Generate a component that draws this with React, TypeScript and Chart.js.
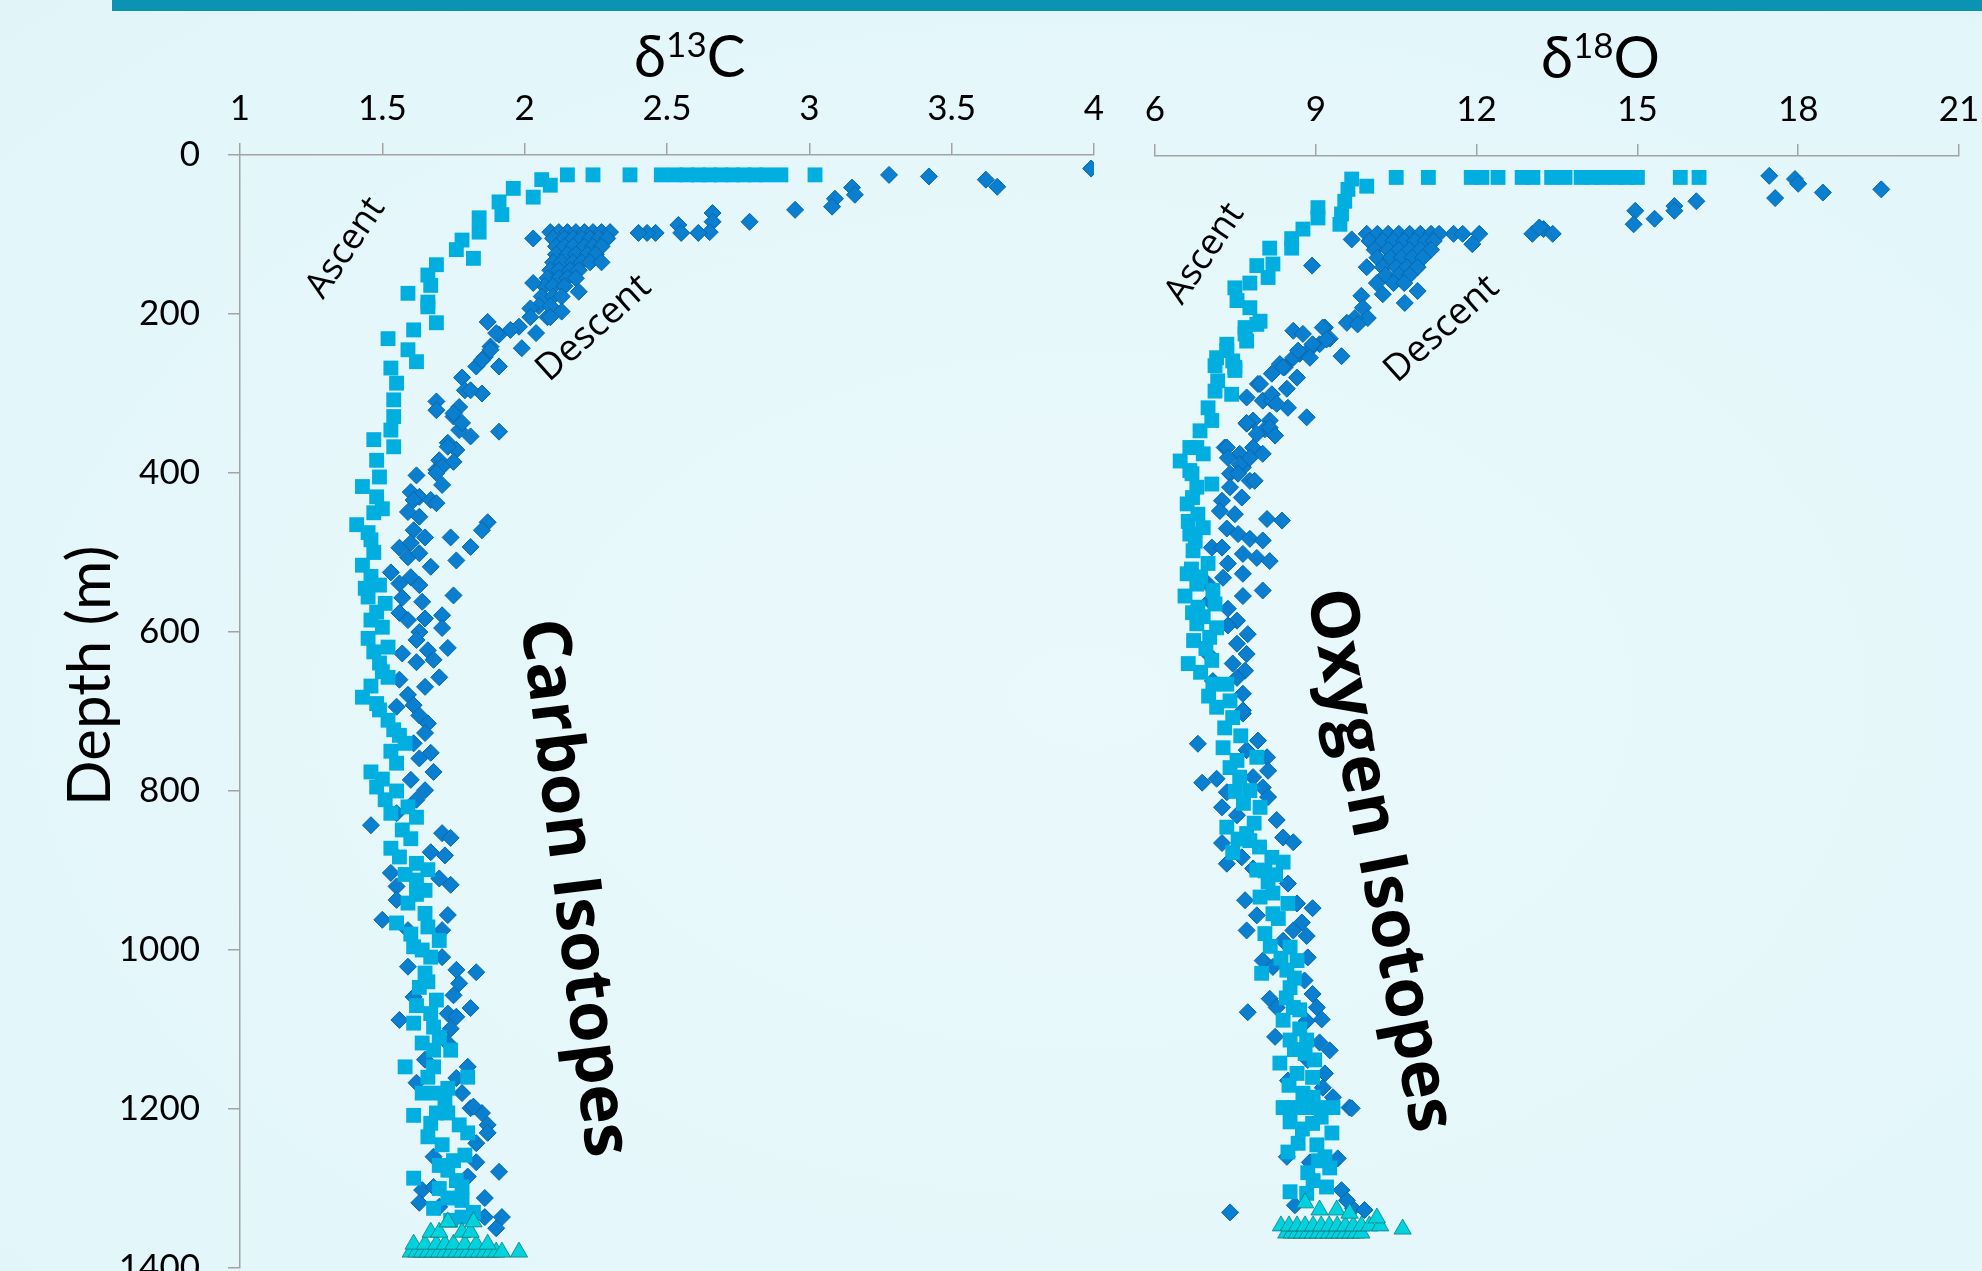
import { useEffect, useRef } from "react";
import { Chart, registerables } from "chart.js";

Chart.register(...registerables);

// ---------- axis tick values ----------
const depthTicks = [0, 200, 400, 600, 800, 1000, 1200, 1400];
const carbonTicks = [1, 1.5, 2, 2.5, 3, 3.5, 4];
const oxygenTicks = [6, 9, 12, 15, 18, 21];

// ---------- δ13C data: [delta, depth m] ----------
const carbonAscent: [number, number][] = [
  [2.15, 25], [2.24, 25], [2.37, 25], [2.48, 25], [2.53, 25], [2.57, 25], [2.61, 25], [2.65, 25], [2.69, 25],
  [2.73, 25], [2.77, 25], [2.81, 25], [2.85, 25], [2.9, 25], [3.02, 25],
  [2.06, 31], [2.09, 38], [1.96, 42], [2.03, 53], [1.91, 59], [1.92, 75], [1.84, 79], [1.84, 97], [1.78, 107],
  [1.76, 119], [1.82, 130], [1.69, 138], [1.66, 151], [1.67, 164], [1.59, 174], [1.66, 185], [1.66, 191],
  [1.69, 211], [1.61, 220], [1.52, 231], [1.59, 245], [1.62, 260], [1.53, 268], [1.55, 287], [1.54, 308],
  [1.54, 329], [1.53, 346], [1.47, 358], [1.54, 367], [1.48, 384], [1.49, 405], [1.43, 417], [1.48, 430],
  [1.47, 450], [1.41, 465], [1.46, 484], [1.43, 516], [1.46, 530], [1.49, 541], [1.45, 556], [1.51, 564],
  [1.46, 585], [1.5, 594], [1.45, 608], [1.52, 619], [1.49, 639], [1.52, 657], [1.43, 682], [1.49, 698],
  [1.52, 711], [1.54, 723], [1.58, 740], [1.55, 765], [1.46, 776], [1.48, 795], [1.51, 811], [1.59, 820],
  [1.53, 828], [1.62, 833], [1.57, 849], [1.53, 872], [1.56, 883], [1.62, 891], [1.66, 899], [1.62, 912],
  [1.65, 925], [1.59, 941], [1.65, 954], [1.55, 966], [1.66, 971], [1.7, 988], [1.61, 996], [1.67, 1009],
  [1.65, 1029], [1.63, 1047], [1.69, 1063], [1.67, 1080], [1.61, 1092], [1.68, 1097], [1.64, 1117],
  [1.68, 1126], [1.74, 1126], [1.58, 1147], [1.68, 1147], [1.8, 1160], [1.64, 1180], [1.69, 1180],
  [1.73, 1174], [1.61, 1208], [1.69, 1205], [1.73, 1205], [1.67, 1218], [1.77, 1220], [1.8, 1230],
  [1.71, 1245], [1.79, 1258], [1.7, 1271], [1.73, 1277], [1.61, 1287], [1.78, 1298], [1.73, 1312],
  [1.78, 1315], [1.82, 1330], [1.78, 1336], [1.74, 1340],
  [1.5, 445], [1.45, 475], [1.47, 500], [1.44, 545], [1.48, 575], [1.47, 625], [1.5, 650], [1.46, 668],
  [1.48, 690], [1.56, 730], [1.53, 750], [1.5, 785], [1.55, 800], [1.6, 860], [1.58, 905], [1.62, 930],
  [1.6, 980], [1.64, 1000], [1.66, 1040], [1.62, 1070], [1.7, 1110], [1.66, 1160], [1.72, 1190],
  [1.66, 1235], [1.75, 1265], [1.76, 1290], [1.7, 1300], [1.68, 1325],
];

const carbonDescent: [number, number][] = [
  [3.99, 17], [3.28, 25], [3.42, 27], [3.62, 31], [3.66, 40], [3.15, 41], [3.16, 50], [3.09, 55], [3.08, 65],
  [2.95, 69], [2.79, 84], [2.66, 73], [2.66, 84], [2.65, 97], [2.61, 98], [2.54, 88], [2.55, 98], [2.46, 98],
  [2.43, 98], [2.4, 98], [2.03, 105],
  [2.09, 97], [2.12, 97], [2.15, 97], [2.18, 97], [2.21, 97], [2.24, 97], [2.27, 97], [2.3, 97],
  [2.1, 105], [2.14, 105], [2.17, 105], [2.2, 105], [2.23, 105], [2.26, 105], [2.29, 105],
  [2.11, 115], [2.14, 115], [2.17, 115], [2.21, 115], [2.24, 115], [2.27, 115],
  [2.11, 125], [2.15, 125], [2.18, 125], [2.22, 125], [2.25, 125],
  [2.1, 135], [2.13, 135], [2.17, 135], [2.2, 135], [2.23, 135], [2.27, 135],
  [2.09, 145], [2.12, 145], [2.16, 145], [2.19, 145],
  [2.08, 155], [2.12, 155], [2.15, 155], [2.18, 155],
  [2.07, 165], [2.1, 165], [2.14, 165], [2.03, 161], [2.19, 172],
  [2.06, 178], [2.1, 178], [2.13, 178], [2.13, 197], [2.08, 204], [2.05, 190], [2.09, 190], [2.02, 193],
  [2.04, 224], [1.98, 216], [1.95, 220], [1.99, 243], [1.91, 226], [1.87, 210], [1.88, 241], [1.86, 254],
  [1.91, 266], [1.83, 266], [1.85, 300], [1.78, 280], [1.79, 296], [1.69, 310], [1.69, 321], [1.77, 317],
  [1.75, 329], [1.77, 346], [1.81, 354], [1.91, 348], [1.73, 362], [1.76, 371], [1.7, 384], [1.69, 396],
  [1.71, 415], [1.62, 403], [1.6, 424], [1.63, 430], [1.9, 224], [2.02, 204], [2.09, 204], [1.88, 245],
  [1.85, 258], [1.81, 296], [1.75, 325], [1.78, 337], [1.73, 367], [1.75, 386], [1.71, 392], [1.69, 400],
  [1.61, 434], [1.67, 434], [1.69, 438], [1.59, 449], [1.63, 455], [1.87, 462], [1.85, 472], [1.61, 472],
  [1.65, 481], [1.74, 481], [1.56, 494], [1.6, 488], [1.81, 493], [1.59, 506], [1.63, 501], [1.76, 510],
  [1.67, 518], [1.53, 525], [1.56, 539], [1.6, 531], [1.63, 541], [1.64, 562], [1.75, 554], [1.57, 557],
  [1.56, 576], [1.59, 585], [1.65, 583], [1.71, 579], [1.71, 595], [1.63, 600], [1.62, 610], [1.73, 620],
  [1.66, 623], [1.68, 635], [1.62, 638], [1.57, 627], [1.7, 657], [1.65, 669], [1.56, 660], [1.59, 679],
  [1.61, 692], [1.55, 694], [1.63, 705], [1.66, 715], [1.61, 740],
  [1.65, 727], [1.67, 752], [1.68, 776], [1.63, 759], [1.6, 786], [1.65, 799], [1.62, 811], [1.46, 843],
  [1.55, 828], [1.71, 853], [1.74, 859], [1.67, 877], [1.72, 881], [1.7, 910], [1.74, 918], [1.53, 903],
  [1.55, 920], [1.55, 937], [1.73, 956], [1.5, 962], [1.71, 975], [1.59, 975], [1.71, 1009], [1.59, 1021],
  [1.76, 1025], [1.83, 1028], [1.77, 1042], [1.61, 1059], [1.75, 1057], [1.73, 1080], [1.81, 1073],
  [1.56, 1088], [1.76, 1084], [1.74, 1099], [1.73, 1117], [1.8, 1147], [1.76, 1161], [1.78, 1180],
  [1.65, 1138], [1.62, 1167], [1.81, 1199], [1.85, 1205], [1.82, 1197], [1.87, 1220], [1.87, 1230],
  [1.83, 1243], [1.83, 1267], [1.91, 1279], [1.68, 1260], [1.64, 1302], [1.63, 1318], [1.68, 1298],
  [1.7, 1323], [1.86, 1312], [1.8, 1285], [1.92, 1336], [1.86, 1336], [1.9, 1350],
];

const carbonBottom: [number, number][] = [
  [1.6, 1380], [1.62, 1380], [1.64, 1380], [1.66, 1380], [1.68, 1380], [1.7, 1380], [1.72, 1380],
  [1.74, 1380], [1.76, 1380], [1.78, 1380], [1.8, 1380], [1.82, 1380], [1.84, 1380], [1.86, 1380],
  [1.88, 1380], [1.9, 1380], [1.92, 1380], [1.98, 1380],
  [1.61, 1370], [1.65, 1370], [1.69, 1370], [1.72, 1370], [1.75, 1370], [1.79, 1370], [1.83, 1370], [1.87, 1370],
  [1.67, 1355], [1.7, 1355], [1.78, 1355], [1.81, 1355], [1.73, 1342], [1.82, 1342],
];

// ---------- δ18O data: [delta, depth m] ----------
const oxygenAscent: [number, number][] = [
  [10.5, 27], [11.1, 27], [11.9, 27], [12.1, 27], [12.4, 27], [12.85, 27], [13.05, 27], [13.4, 27],
  [13.65, 27], [13.95, 27], [14.15, 27], [14.35, 27], [14.6, 27], [14.8, 27], [15.0, 27], [15.8, 27], [16.15, 27],
  [9.95, 38], [9.67, 29], [9.6, 42], [9.54, 57], [9.48, 73], [9.45, 86], [9.04, 65], [9.04, 78], [8.76, 92],
  [8.55, 104], [8.55, 116], [8.14, 116], [8.2, 136], [8.11, 153], [7.9, 138], [7.77, 160], [7.49, 166],
  [7.53, 182], [7.77, 191], [7.96, 208], [7.68, 216], [7.71, 233], [7.34, 237], [7.15, 254], [7.45, 258],
  [7.49, 270], [7.17, 283], [7.12, 296], [7.43, 300], [6.99, 317], [7.06, 333], [6.84, 346], [6.78, 367],
  [6.47, 384], [6.9, 375], [6.69, 400], [6.78, 417], [7.9, 212], [7.68, 224], [7.34, 245], [7.49, 266],
  [7.12, 264], [6.65, 367], [6.65, 396], [7.06, 413], [6.6, 438], [6.8, 451], [6.9, 468], [6.65, 476],
  [6.71, 497], [6.99, 513], [6.6, 526], [6.78, 539], [7.08, 547], [6.56, 554], [6.8, 568], [7.12, 564],
  [6.78, 589], [7.02, 606], [7.15, 594], [6.62, 639], [7.06, 635], [7.08, 665], [7.34, 665], [7.15, 694],
  [7.4, 686], [7.45, 707], [7.27, 745], [7.53, 761], [7.9, 757], [7.58, 782], [7.77, 799], [7.96, 820],
  [7.34, 845], [7.71, 853], [7.45, 877], [7.77, 862], [8.18, 883], [8.39, 889], [7.9, 899], [8.11, 914],
  [7.96, 933], [8.2, 928], [8.48, 941], [8.2, 954], [8.05, 979], [8.52, 996], [8.65, 1013], [7.99, 1029],
  [8.46, 1025], [8.52, 1047], [8.58, 1072], [8.39, 1088], [8.7, 1099], [8.52, 1113], [8.83, 1113],
  [8.33, 1142], [8.98, 1138], [8.65, 1155], [8.94, 1160], [8.39, 1198], [8.57, 1198], [8.7, 1198],
  [8.88, 1198], [9.07, 1198], [9.32, 1198], [8.76, 1180], [8.52, 1216], [8.94, 1218], [9.3, 1230],
  [8.67, 1243], [9.02, 1245], [8.48, 1254], [9.17, 1260], [8.85, 1280], [9.26, 1274], [9.2, 1298],
  [8.52, 1304], [8.83, 1306],
  [6.7, 430], [6.62, 460], [6.75, 485], [6.68, 520], [6.85, 530], [6.7, 575], [6.9, 580], [6.72, 610],
  [6.95, 620], [6.85, 650], [7.0, 680], [7.3, 720], [7.6, 730], [7.4, 770], [7.65, 815], [7.5, 800],
  [7.85, 840], [7.55, 860], [7.95, 870], [8.05, 900], [8.25, 905], [8.3, 960], [8.15, 995], [8.35, 1010],
  [8.6, 1035], [8.45, 1060], [8.7, 1075], [8.6, 1125], [8.8, 1130], [8.5, 1170], [8.95, 1185], [9.1, 1210],
  [8.75, 1225], [9.05, 1265], [8.95, 1290],
];

const oxygenDescent: [number, number][] = [
  [17.46, 25], [17.94, 29], [18.0, 35], [19.55, 42], [18.46, 46], [17.57, 53], [16.1, 57], [15.69, 63],
  [15.69, 69], [14.96, 69], [15.32, 79], [14.93, 86], [13.25, 92], [13.04, 98], [13.42, 98], [11.92, 111],
  [12.05, 98], [11.57, 98], [11.74, 98], [13.17, 90], [9.67, 105], [8.93, 138],
  [9.95, 98], [10.15, 98], [10.35, 98], [10.55, 98], [10.75, 98], [10.95, 98], [11.15, 98], [11.3, 98],
  [10.0, 107], [10.25, 107], [10.45, 107], [10.65, 107], [10.85, 107], [11.05, 107], [11.2, 107],
  [10.1, 118], [10.35, 118], [10.55, 118], [10.75, 118], [10.95, 118], [11.15, 118],
  [10.15, 128], [10.4, 128], [10.6, 128], [10.8, 128], [11.0, 128],
  [9.95, 140], [10.25, 140], [10.5, 140], [10.7, 140], [10.9, 140],
  [10.3, 150], [10.55, 150], [10.75, 150], [10.14, 160], [10.45, 160], [10.65, 160],
  [10.25, 174], [10.66, 185], [10.9, 170], [9.85, 176], [9.88, 191], [9.97, 204], [9.73, 204], [9.58, 210],
  [9.78, 212], [9.48, 252], [9.17, 216], [9.26, 230], [9.07, 237], [8.89, 243], [8.7, 249], [8.58, 220],
  [8.76, 224], [8.58, 254], [8.42, 266], [8.33, 262], [8.18, 274], [7.92, 287], [8.01, 308], [8.18, 308],
  [7.71, 304], [7.83, 333], [8.14, 333], [8.83, 329], [8.48, 317], [7.71, 337], [8.05, 344], [7.3, 367],
  [7.58, 375], [7.83, 367], [7.64, 392], [7.4, 400], [7.77, 409],
  [9.13, 216], [9.2, 231], [8.94, 237], [8.67, 245], [8.89, 254], [8.39, 266], [8.65, 279], [8.46, 293],
  [7.96, 287], [8.18, 300], [8.27, 312], [7.71, 336], [8.14, 342], [7.9, 350], [8.24, 352], [8.01, 375],
  [7.34, 367], [7.36, 380], [7.58, 388], [7.77, 380], [7.86, 409], [7.55, 400], [7.4, 417], [7.25, 434],
  [7.21, 447], [7.62, 430], [7.49, 451], [8.09, 457], [8.37, 459], [7.34, 469], [7.55, 476], [7.77, 482],
  [8.01, 484], [7.06, 493], [7.25, 493], [7.64, 501], [7.9, 506], [8.14, 510], [7.36, 513], [7.27, 531],
  [7.64, 526], [8.01, 547], [7.64, 554], [6.99, 539], [7.02, 560], [7.36, 570], [7.53, 585], [7.36, 591],
  [7.73, 602], [7.53, 614], [6.99, 627], [7.71, 627], [7.45, 639], [7.68, 648], [7.08, 661], [7.53, 657],
  [7.64, 677], [7.64, 702],
  [6.8, 740], [7.15, 784], [6.88, 789], [7.34, 801], [7.92, 736], [7.64, 698], [7.71, 748], [8.09, 757],
  [8.11, 774], [7.83, 782], [8.01, 795], [8.11, 807], [7.25, 820], [7.53, 830], [8.27, 836], [7.25, 865],
  [8.39, 858], [8.58, 864], [7.34, 891], [7.62, 883], [7.83, 897], [8.48, 916], [7.68, 937], [7.9, 956],
  [7.71, 975], [8.65, 941], [8.94, 947], [8.74, 965], [8.58, 975], [8.83, 982], [8.39, 988], [8.01, 1013],
  [8.2, 1021], [8.85, 1009], [8.79, 1038], [8.94, 1055], [8.14, 1061], [7.73, 1078], [8.27, 1072],
  [9.02, 1072], [9.11, 1087], [8.83, 1089], [8.24, 1109], [9.07, 1116], [9.26, 1126], [8.85, 1138],
  [9.17, 1155], [8.48, 1164], [9.32, 1185], [9.63, 1198], [9.13, 1173], [9.67, 1199], [7.4, 1330],
  [8.46, 1260], [9.41, 1262], [8.89, 1267], [9.48, 1302], [8.61, 1321], [9.69, 1325], [9.91, 1327], [9.58, 1315],
];

const oxygenBottom: [number, number][] = [
  [8.45, 1356], [8.55, 1356], [8.65, 1356], [8.75, 1356], [8.85, 1356], [8.95, 1356], [9.05, 1356],
  [9.15, 1356], [9.25, 1356], [9.35, 1356], [9.45, 1356], [9.55, 1356], [9.65, 1356], [9.75, 1356], [9.85, 1356],
  [8.35, 1347], [8.5, 1347], [8.65, 1347], [8.8, 1347], [8.95, 1347], [9.1, 1347], [9.25, 1347], [9.4, 1347],
  [9.55, 1347], [9.7, 1347], [9.85, 1347], [10.0, 1347], [10.2, 1347], [10.62, 1351],
  [8.8, 1318], [9.07, 1327], [9.39, 1327], [9.63, 1331], [10.14, 1337],
];

// ---------- text labels anchored in data units ----------
type Note = { text: string; x: number; y: number; angle: number; weight: number; size: number };
const carbonNotes: Note[] = [
  { text: "Ascent", x: 1.372, y: 117, angle: -56, weight: 400, size: 36 },
  { text: "Descent", x: 2.243, y: 218, angle: -42, weight: 400, size: 37 },
  { text: "Carbon Isotopes", x: 2.17, y: 922, angle: 83, weight: 700, size: 67 },
];
const oxygenNotes: Note[] = [
  { text: "Ascent", x: 6.93, y: 123, angle: -56, weight: 400, size: 36 },
  { text: "Descent", x: 11.35, y: 218, angle: -42, weight: 400, size: 37 },
  { text: "Oxygen Isotopes", x: 10.17, y: 887, angle: 79, weight: 700, size: 67 },
];

const TICK_FONT = "Lato, 'Noto Sans', sans-serif";
const NOTE_FONT = "'Open Sans', 'Noto Sans', sans-serif";
const AXIS_COLOR = "#a3a3a3";

const toPoints = (arr: [number, number][]) => arr.map(([x, y]) => ({ x, y }));

function makeTextPlugin(title: { sup: string; letter: string; x: number }, notes: Note[], depthTitle: boolean) {
  return {
    id: "isoText",
    afterDraw(chart: any) {
      const { ctx, scales, chartArea } = chart;
      const xs = scales.x;
      const ys = scales.y;
      ctx.save();
      ctx.fillStyle = "#000";
      // axis title: δ + superscript + letter
      const big = `400 58px ${TICK_FONT}`;
      const small = `400 35px ${TICK_FONT}`;
      ctx.font = big;
      const wd = ctx.measureText("δ").width;
      const wl = ctx.measureText(title.letter).width;
      ctx.font = small;
      const ws = ctx.measureText(title.sup).width;
      const cx = xs.getPixelForValue(title.x);
      const base = chartArea.top - 78;
      let px = cx - (wd + ws + wl) / 2;
      ctx.textAlign = "left";
      ctx.textBaseline = "alphabetic";
      ctx.font = big;
      ctx.fillText("δ", px, base);
      px += wd;
      ctx.font = small;
      ctx.fillText(title.sup, px, base - 20);
      px += ws;
      ctx.font = big;
      ctx.fillText(title.letter, px, base);

      // annotations
      ctx.textAlign = "center";
      ctx.textBaseline = "middle";
      for (const n of notes) {
        const nx = xs.getPixelForValue(n.x);
        const ny = ys.getPixelForValue(n.y);
        ctx.save();
        ctx.translate(nx, ny);
        ctx.rotate((n.angle * Math.PI) / 180);
        ctx.font = `${n.weight} ${n.size}px ${NOTE_FONT}`;
        ctx.fillText(n.text, 0, 0);
        ctx.restore();
      }

      if (depthTitle) {
        ctx.save();
        ctx.translate(91, ys.getPixelForValue(655));
        ctx.rotate(-Math.PI / 2);
        ctx.font = `400 60px ${TICK_FONT}`;
        ctx.fillText("Depth (m)", 0, 0);
        ctx.restore();
      }
      ctx.restore();
    },
  };
}

function datasets(descent: [number, number][], ascent: [number, number][], bottom: [number, number][]) {
  return [
    {
      label: "Bottom",
      data: toPoints(bottom),
      pointStyle: "triangle",
      pointRadius: 10,
      backgroundColor: "#00D3DE",
      borderColor: "#0E7C82",
      borderWidth: 0.8,
    },
    {
      label: "Ascent",
      data: toPoints(ascent),
      pointStyle: "rect",
      pointRadius: 10.5,
      backgroundColor: "#00AEDF",
      borderColor: "#00AEDF",
      borderWidth: 0,
    },
    {
      label: "Descent",
      data: toPoints(descent),
      pointStyle: "rectRot",
      pointRadius: 8.5,
      backgroundColor: "#0A7FCF",
      borderColor: "#0866AA",
      borderWidth: 1,
    },
  ];
}

function buildConfig(
  xMin: number,
  xMax: number,
  xTicks: number[],
  showY: boolean,
  yWidth: number,
  xHeight: number,
  padRight: number,
  padBottom: number,
  padLeft: number,
  data: any[],
  plugin: any
): any {
  return {
    type: "scatter",
    data: { datasets: data },
    plugins: [plugin],
    options: {
      responsive: false,
      animation: false,
      devicePixelRatio: 1,
      events: [],
      layout: { padding: { left: padLeft, right: padRight, top: 0, bottom: padBottom } },
      plugins: { legend: { display: false }, tooltip: { enabled: false }, title: { display: false } },
      scales: {
        x: {
          type: "linear",
          position: "top",
          min: xMin,
          max: xMax,
          afterBuildTicks: (s: any) => {
            s.ticks = xTicks.map((v) => ({ value: v }));
          },
          afterFit: (s: any) => {
            s.height = xHeight;
            s.paddingLeft = 0;
            s.paddingRight = 0;
          },
          grid: { drawOnChartArea: false, drawTicks: true, tickLength: 12, color: AXIS_COLOR, lineWidth: 1.5 },
          border: { display: true, color: AXIS_COLOR, width: 1.5 },
          ticks: {
            font: { family: TICK_FONT, size: 35 },
            color: "#000",
            padding: 13,
            maxRotation: 0,
            callback: (v: any) => String(v),
          },
        },
        y: {
          type: "linear",
          display: showY,
          position: "left",
          reverse: true,
          min: 0,
          max: 1400,
          afterBuildTicks: (s: any) => {
            s.ticks = depthTicks.map((v) => ({ value: v }));
          },
          afterFit: (s: any) => {
            s.width = yWidth;
            s.paddingTop = 0;
            s.paddingBottom = 0;
          },
          grid: { drawOnChartArea: false, drawTicks: true, tickLength: 12, color: AXIS_COLOR, lineWidth: 1.5 },
          border: { display: true, color: AXIS_COLOR, width: 1.5 },
          ticks: {
            font: { family: TICK_FONT, size: 35 },
            color: "#000",
            padding: 28,
            callback: (v: any) => String(v),
          },
        },
      },
    },
  };
}

export default function App() {
  const leftRef = useRef<HTMLCanvasElement | null>(null);
  const rightRef = useRef<HTMLCanvasElement | null>(null);

  useEffect(() => {
    document.body.style.margin = "0";
    document.body.style.overflow = "hidden";
    const left = new Chart(
      leftRef.current as HTMLCanvasElement,
      buildConfig(
        1, 4, carbonTicks, true, 240, 155, 16, 62, 0,
        datasets(carbonDescent, carbonAscent, carbonBottom),
        makeTextPlugin({ sup: "13", letter: "C", x: 2.58 }, carbonNotes, true)
      )
    );
    const right = new Chart(
      rightRef.current as HTMLCanvasElement,
      buildConfig(
        6, 21, oxygenTicks, false, 0, 156, 23, 62, 45,
        datasets(oxygenDescent, oxygenAscent, oxygenBottom),
        makeTextPlugin({ sup: "18", letter: "O", x: 14.31 }, oxygenNotes, false)
      )
    );
    return () => {
      left.destroy();
      right.destroy();
    };
  }, []);

  return (
    <div
      style={{
        position: "fixed",
        left: 0,
        top: 0,
        width: 1982,
        height: 1271,
        overflow: "hidden",
        background: "radial-gradient(ellipse at 55% 55%, #eaf9fb 0%, #e5f7fa 60%, #e1f5f8 100%)",
      }}
    >
      <div style={{ position: "absolute", left: 112, top: 0, right: 0, height: 11, background: "#0B93B4" }} />
      <canvas
        ref={leftRef}
        width={1110}
        height={1330}
        style={{ position: "absolute", left: 0, top: 0, width: 1110, height: 1330 }}
      />
      <canvas
        ref={rightRef}
        width={872}
        height={1330}
        style={{ position: "absolute", left: 1110, top: 0, width: 872, height: 1330 }}
      />
    </div>
  );
}
